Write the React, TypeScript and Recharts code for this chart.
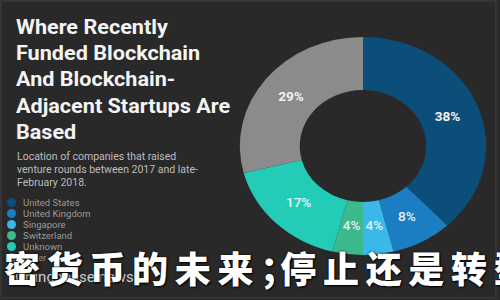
import React from "react";
import { PieChart, Pie, Cell } from "recharts";

const categories = ["United States", "United Kingdom", "Singapore", "Switzerland", "Unknown", "Other"];
const shares = [38, 8, 4, 4, 17, 29];
const colors = ["#0c4e7a", "#1b7dc2", "#3bb8ea", "#3bb98c", "#22ccb7", "#8b8b8b"];
const titleLines = ["Where Recently", "Funded Blockchain", "And Blockchain-", "Adjacent Startups Are", "Based"];
const subtitleLines = ["Location of companies that raised", "venture rounds between 2017 and late-", "February 2018."];
const sourceText = "Crunchbase news";
const overlayText = "密货币的未来；停止还是转型";

const data = categories.map((name, i) => ({ name, value: shares[i] }));

const RAD = Math.PI / 180;
const renderLabel = (props: any) => {
  const { cx, cy, midAngle, innerRadius, outerRadius, value } = props;
  const r = (innerRadius + outerRadius) / 2 - 2;
  const x = cx + r * Math.cos(-midAngle * RAD);
  const y = cy + r * Math.sin(-midAngle * RAD);
  const big = value >= 20;
  return (
    <text
      x={x}
      y={y}
      fill={big ? "#f2f2f2" : "#e6f4f8"}
      textAnchor="middle"
      dominantBaseline="central"
      fontFamily="Roboto, sans-serif"
      fontWeight={big ? 700 : 500}
      fontSize={12}
    >
      {value}%
    </text>
  );
};

export default function App() {
  return (
    <div
      style={{
        position: "absolute",
        left: 0,
        top: 0,
        width: 500,
        height: 300,
        background: "#2a2a2a",
        overflow: "hidden",
        fontFamily: "Roboto, sans-serif",
      }}
    >
      <div
        style={{
          position: "absolute",
          left: 2,
          top: 2,
          right: 5,
          bottom: 3,
          boxShadow: "0 0 0 2px #353535",
          background: "#292929",
        }}
      />
      <div
        style={{
          position: "absolute",
          left: 243,
          top: 26,
          width: 240,
          height: 240,
          transform: "scaleX(1.13)",
          transformOrigin: "50% 50%",
        }}
      >
        <PieChart width={240} height={240} margin={{ top: 0, right: 0, bottom: 0, left: 0 }}>
          <Pie
            data={data}
            dataKey="value"
            nameKey="name"
            cx={120}
            cy={120}
            innerRadius={56}
            outerRadius={109}
            startAngle={90}
            endAngle={-270}
            stroke="none"
            label={renderLabel}
            labelLine={false}
            isAnimationActive={false}
          >
            {data.map((d, i) => (
              <Cell key={d.name} fill={colors[i]} />
            ))}
          </Pie>
        </PieChart>
      </div>
      <div
        style={{
          position: "absolute",
          left: 16,
          top: 14,
          transform: "scaleX(1.08)",
          transformOrigin: "0 0",
        }}
      >
        {titleLines.map((t) => (
          <div
            key={t}
            style={{
              color: "#f4f4f4",
              fontWeight: 700,
              fontSize: 20,
              lineHeight: "26.2px",
              whiteSpace: "nowrap",
            }}
          >
            {t}
          </div>
        ))}
      </div>
      <div style={{ position: "absolute", left: 17, top: 150 }}>
        {subtitleLines.map((t) => (
          <div
            key={t}
            style={{ color: "#bdbdbd", fontSize: 10.5, lineHeight: "13px", whiteSpace: "nowrap" }}
          >
            {t}
          </div>
        ))}
      </div>
      <div style={{ position: "absolute", left: 7, top: 197 }}>
        {categories.map((c, i) => (
          <div key={c} style={{ display: "flex", alignItems: "center", height: 11 }}>
            <span
              style={{
                display: "inline-block",
                width: 9,
                height: 9,
                borderRadius: "50%",
                background: colors[i],
                marginRight: 7,
              }}
            />
            <span style={{ color: "#9a9a9a", fontSize: 9.5, whiteSpace: "nowrap" }}>{c}</span>
          </div>
        ))}
      </div>
      <div
        style={{
          position: "absolute",
          left: 15,
          top: 268,
          color: "#d0d0d0",
          fontSize: 15,
          whiteSpace: "nowrap",
        }}
      >
        {sourceText}
      </div>
      <div
        style={{
          position: "absolute",
          left: 4,
          top: 245,
          color: "#ffffff",
          fontSize: 36,
          fontWeight: 900,
          fontFamily: '"Noto Sans CJK SC", sans-serif',
          letterSpacing: 6.7,
          whiteSpace: "nowrap",
          lineHeight: "44px",
          textShadow: "0 0 2px #000, 1px 1px 2px #000",
        }}
      >
        {Array.from(overlayText).map((ch, i) => (
          <span key={i} style={ch === "；" ? { letterSpacing: -16 } : undefined}>
            {ch}
          </span>
        ))}
      </div>
    </div>
  );
}
